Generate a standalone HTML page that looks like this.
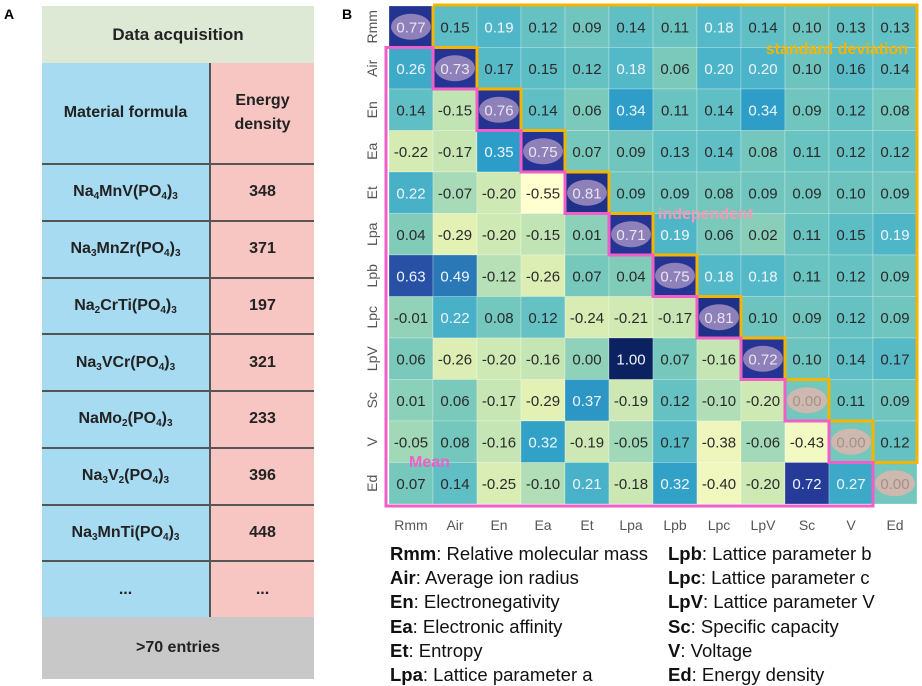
<!DOCTYPE html>
<html><head><meta charset="utf-8">
<style>
body{margin:0;width:922px;height:686px;background:#fff;font-family:"Liberation Sans",Arial,sans-serif;overflow:hidden;position:relative}
.abs{position:absolute}
.cell{position:absolute;display:flex;align-items:center;justify-content:center;font-weight:bold;color:#222;font-size:16px;box-sizing:border-box}
sub{font-size:10px;vertical-align:-3px;line-height:0}
</style></head><body>
<div class="abs" style="left:4px;top:6px;font-weight:bold;font-size:14px">A</div>
<div class="abs" style="left:342px;top:6px;font-weight:bold;font-size:14px">B</div>

<div>
<div class="cell" style="left:42px;top:6px;width:272px;height:57px;background:#dde9d4;font-size:17px">Data acquisition</div>
<div class="cell" style="left:42px;top:63px;width:167px;height:100px;background:#a7dbf1;font-size:16px">Material formula</div>
<div class="cell" style="left:209px;top:63px;width:105px;height:100px;background:#f7c6c2;font-size:16px;text-align:center;line-height:24px;border-left:2px solid #555">Energy<br>density</div>
<div id="rows"></div>
<div class="cell" style="left:42px;top:617px;width:272px;height:62px;background:#c8c8c8;font-size:16px">&gt;70 entries</div>
</div>

<svg id="hm" class="abs" style="left:0;top:0" width="922" height="686"></svg>

<div id="legend"></div>

<script>
const formulas=['Na<sub>4</sub>MnV(PO<sub>4</sub>)<sub>3</sub>','Na<sub>3</sub>MnZr(PO<sub>4</sub>)<sub>3</sub>','Na<sub>2</sub>CrTi(PO<sub>4</sub>)<sub>3</sub>','Na<sub>3</sub>VCr(PO<sub>4</sub>)<sub>3</sub>','NaMo<sub>2</sub>(PO<sub>4</sub>)<sub>3</sub>','Na<sub>3</sub>V<sub>2</sub>(PO<sub>4</sub>)<sub>3</sub>','Na<sub>3</sub>MnTi(PO<sub>4</sub>)<sub>3</sub>','...'];
const energies=['348','371','197','321','233','396','448','...'];
const rowsEl=document.getElementById('rows');
formulas.forEach((f,i)=>{
  const top=163+i*56.75;
  const a=document.createElement('div');a.className='cell';
  a.style.cssText=`left:42px;top:${top}px;width:167px;height:56.75px;background:#a7dbf1;border-top:2px solid #555`;
  a.innerHTML='<span>'+f+'</span>';
  
  
  const b=document.createElement('div');b.className='cell';
  b.style.cssText=`left:209px;top:${top}px;width:105px;height:56.75px;background:#f7c6c2;border-top:2px solid #555;border-left:2px solid #555`;
  b.textContent=energies[i];
  
  
  rowsEl.appendChild(a);rowsEl.appendChild(b);
});

const labels=['Rmm','Air','En','Ea','Et','Lpa','Lpb','Lpc','LpV','Sc','V','Ed'];
const r0=[0.77,0.15,0.19,0.12,0.09,0.14,0.11,0.18,0.14,0.10,0.13,0.13];
const r1=[0.26,0.73,0.17,0.15,0.12,0.18,0.06,0.20,0.20,0.10,0.16,0.14];
const r2=[0.14,-0.15,0.76,0.14,0.06,0.34,0.11,0.14,0.34,0.09,0.12,0.08];
const r3=[-0.22,-0.17,0.35,0.75,0.07,0.09,0.13,0.14,0.08,0.11,0.12,0.12];
const r4=[0.22,-0.07,-0.20,-0.55,0.81,0.09,0.09,0.08,0.09,0.09,0.10,0.09];
const r5=[0.04,-0.29,-0.20,-0.15,0.01,0.71,0.19,0.06,0.02,0.11,0.15,0.19];
const r6=[0.63,0.49,-0.12,-0.26,0.07,0.04,0.75,0.18,0.18,0.11,0.12,0.09];
const r7=[-0.01,0.22,0.08,0.12,-0.24,-0.21,-0.17,0.81,0.10,0.09,0.12,0.09];
const r8=[0.06,-0.26,-0.20,-0.16,-0.00,1.00,0.07,-0.16,0.72,0.10,0.14,0.17];
const r9=[0.01,0.06,-0.17,-0.29,0.37,-0.19,0.12,-0.10,-0.20,0.00,0.11,0.09];
const r10=[-0.05,0.08,-0.16,0.32,-0.19,-0.05,0.17,-0.38,-0.06,-0.43,0.00,0.12];
const r11=[0.07,0.14,-0.25,-0.10,0.21,-0.18,0.32,-0.40,-0.20,0.72,0.27,0.00];
const matrix=[r0,r1,r2,r3,r4,r5,r6,r7,r8,r9,r10,r11];

const X0=389,CW=44,Y0=6,RH=41.5,N=labels.length;
const xL=c=>X0+c*CW, yT=r=>Y0+r*RH;
const stops=[[-0.55,[255,255,208]],[-0.3,[230,242,180]],[-0.17,[200,230,180]],[-0.05,[160,216,184]],[0.05,[125,202,185]],[0.12,[102,194,194]],[0.2,[76,180,200]],[0.35,[44,156,200]],[0.5,[42,117,181]],[0.63,[40,80,165]],[0.75,[37,52,148]],[1.0,[12,34,96]]];
function col(v){
  if(v<=stops[0][0])return 'rgb('+stops[0][1]+')';
  for(let i=1;i<stops.length;i++){if(v<=stops[i][0]){const [a,ca]=stops[i-1],[b,cb]=stops[i];const t=(v-a)/(b-a);return 'rgb('+ca.map((x,k)=>Math.round(x+(cb[k]-x)*t)).join(',')+')';}}
  return 'rgb('+stops[stops.length-1][1]+')';
}
const svg=document.getElementById('hm');const NS='http://www.w3.org/2000/svg';
function mk(t,a,txt){const e=document.createElementNS(NS,t);for(const k in a)e.setAttribute(k,a[k]);if(txt!=null)e.textContent=txt;svg.appendChild(e);return e;}
matrix.forEach((row,r)=>row.forEach((v,c)=>{
  const diag=r===c;
  const fill=diag?(v>0?col(Math.max(v,0.75)):col(0.08)):col(v);
  const rect=mk('rect',{x:xL(c),y:yT(r),width:CW,height:RH,fill:fill,stroke:'rgba(255,255,255,0.25)','stroke-width':1});
  
  
  const cx=xL(c)+CW/2,cy=yT(r)+RH/2;
  let tc=v>=0.18?'#eef6ff':'#2a2a2a';
  if(diag){
    const el=mk('ellipse',{cx:cx,cy:cy,rx:20,ry:13,fill:v>0?'#8e80b8':'#cdb9b0'});
    
    
    tc=v>0?'#eae4f4':'#a89088';
  }
  const t=mk('text',{x:cx,y:cy+5.5,'text-anchor':'middle','font-size':15,fill:tc,'font-family':'Liberation Sans, Arial, sans-serif'},v.toFixed(2));
  
  
}));
let d=`M${xL(1)},${yT(0)-1} L${xL(N)},${yT(0)-1} L${xL(N)},${yT(N-1)}`;
for(let k=N-1;k>=1;k--){d+=` L${xL(k)},${yT(k)} L${xL(k)},${yT(k-1)}`;}
const po=mk('path',{d:d,fill:'none',stroke:'#f4b400','stroke-width':3});


let p=`M${xL(0)-3},${yT(1)} L${xL(0)-3},${yT(N)+2} L${xL(N-1)},${yT(N)+2}`;
for(let k=N-1;k>=1;k--){p+=` L${xL(k)},${yT(k)} L${xL(k-1)},${yT(k)}`;}
p+=' Z';
const pp=mk('path',{d:p,fill:'none',stroke:'#ee5fc8','stroke-width':3});


labels.forEach((l,i)=>{
  const tx=mk('text',{x:xL(i)+CW/2,y:530,'text-anchor':'middle','font-size':14,fill:'#555'},l);
  
  
  const cy=yT(i)+RH/2;
  const ty=mk('text',{x:377,y:cy,'text-anchor':'middle','font-size':14,fill:'#555',transform:`rotate(-90 377 ${cy})`},l);
  
  
});
const a1=mk('text',{x:908,y:54,'text-anchor':'end','font-size':16,'font-weight':'bold',fill:'#f4b400'},'standard deviation');

const a2=mk('text',{x:658,y:219,'font-size':16,'font-weight':'bold',fill:'#f39ab6'},'independent');

const a3=mk('text',{x:409,y:467,'font-size':16,'font-weight':'bold',fill:'#ee5fc8'},'Mean');


const legL=[['Rmm','Relative molecular mass'],['Air','Average ion radius'],['En','Electronegativity'],['Ea','Electronic affinity'],['Et','Entropy'],['Lpa','Lattice parameter a']];
const legR=[['Lpb','Lattice parameter b'],['Lpc','Lattice parameter c'],['LpV','Lattice parameter V'],['Sc','Specific capacity'],['V','Voltage'],['Ed','Energy density']];
const lg=document.getElementById('legend');
[[legL,390],[legR,668]].forEach(([arr,x])=>arr.forEach(([k,v],i)=>{
  const e=document.createElement('div');e.className='abs';
  e.style.cssText=`left:${x}px;top:${543+i*24.2}px;font-size:18.5px;color:#111;white-space:nowrap`;
  e.innerHTML=`<b>${k}</b>: ${v}`;
  
  
  lg.appendChild(e);
}));
</script>
</body></html>
